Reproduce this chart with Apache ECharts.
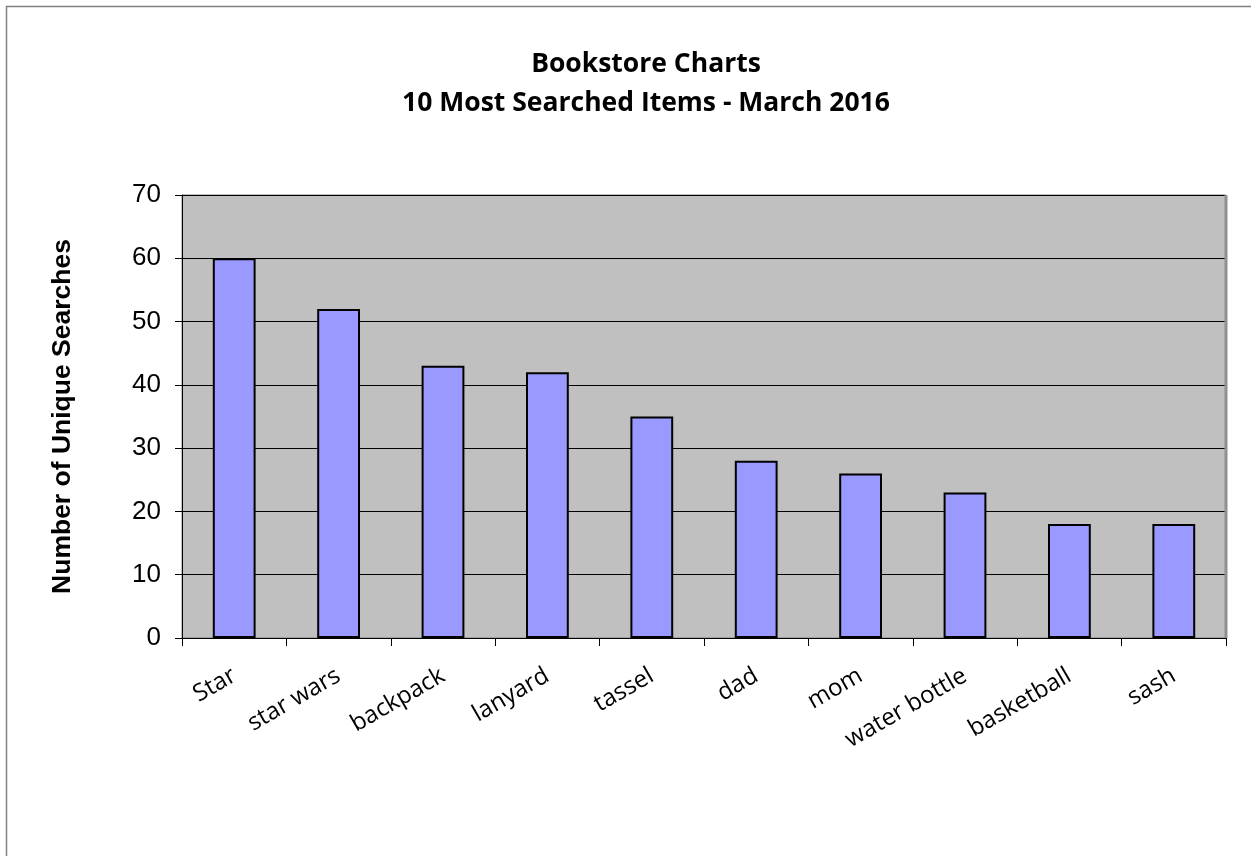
<!DOCTYPE html>
<html><head><meta charset="utf-8">
<script src="https://cdn.jsdelivr.net/npm/echarts@6/dist/echarts.min.js"></script>
<style>html,body{margin:0;padding:0;background:#fff;}#c{width:1251px;height:856px;}</style>
</head><body><div id="c"></div>
<script>
const categories = ["Star","star wars","backpack","lanyard","tassel","dad","mom","water bottle","basketball","sash"];
const searches = [60,52,43,42,35,28,26,23,18,18];
const titleLines = ["Bookstore Charts","10 Most Searched Items - March 2016"];
const yAxisName = "Number of Unique Searches";

const chart = echarts.init(document.getElementById('c'));
chart.setOption({
  animation:false,
  backgroundColor:'#fff',
  graphic:[
    {type:'rect',shape:{x:6.5,y:6.5,width:1260,height:870},style:{fill:'none',stroke:'#808080',lineWidth:1.5},silent:true},
    {type:'rect',shape:{x:182,y:195,width:1044,height:443},style:{fill:'#C0C0C0',stroke:'#808080',lineWidth:1},z:-1,silent:true},
    {type:'line',shape:{x1:1226,y1:195,x2:1226,y2:638},style:{stroke:'#909090',lineWidth:3},z:1,silent:true}
  ],
  title:{
    text:titleLines.join('\n'),
    left:641, top:40, textAlign:'center',
    textStyle:{fontFamily:'Open Sans',fontWeight:'bold',fontSize:26.5,lineHeight:39,color:'#000'}
  },
  grid:{left:182,right:25,top:195,bottom:218,containLabel:false},
  xAxis:{
    type:'category',data:categories,
    axisLine:{show:true,lineStyle:{color:'#000',width:1}},
    axisTick:{show:true,alignWithLabel:false,length:8,lineStyle:{color:'#000'}},
    axisLabel:{rotate:30,margin:36,fontFamily:'Open Sans',fontSize:24,color:'#000',interval:0},
    splitLine:{show:false}
  },
  yAxis:{
    type:'value',min:0,max:70,interval:10,
    name:yAxisName,nameLocation:'middle',nameGap:106,nameRotate:90,
    nameTextStyle:{fontFamily:'Liberation Sans',fontWeight:'bold',fontSize:26.5,color:'#000'},
    axisLine:{show:true,lineStyle:{color:'#000',width:1}},
    axisTick:{show:true,length:7,lineStyle:{color:'#000'}},
    axisLabel:{fontFamily:'Liberation Sans',fontSize:26,color:'#000',margin:21},
    splitLine:{show:true,lineStyle:{color:'#000',width:1}}
  },
  series:[{
    type:'bar',data:searches,barWidth:'41%',
    itemStyle:{color:'#9999FF',borderColor:'#000',borderWidth:2}
  }]
});
</script></body></html>
